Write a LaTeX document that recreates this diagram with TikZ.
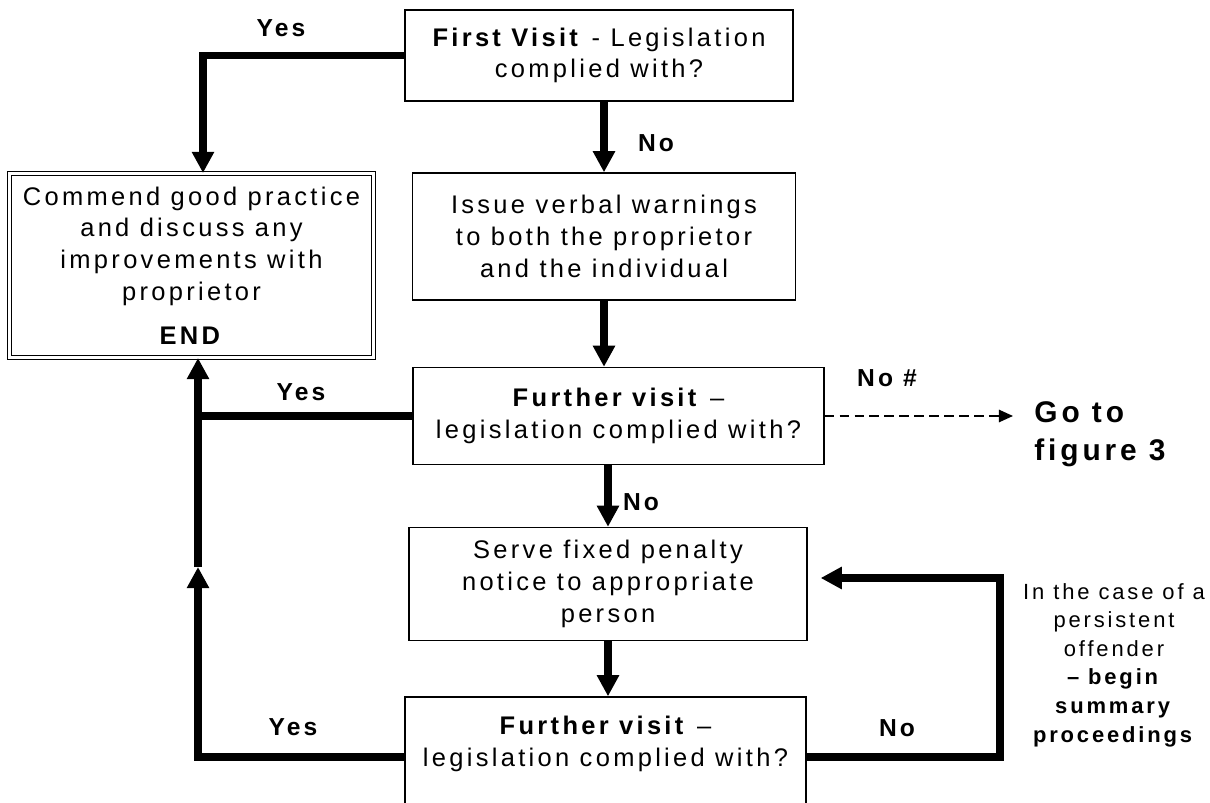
\documentclass[tikz,border=0pt]{standalone}
\usepackage{fontspec}
\setmainfont{Liberation Sans}[LetterSpace=13]
\usetikzlibrary{arrows.meta}

\begin{document}
\begin{tikzpicture}[
        x=0.02cm, y=-0.02cm,
        box/.style={rectangle, draw, line width=0.8pt, align=center, inner sep=2pt,
            font=\fontsize{14.5}{18}\selectfont},
        endbox/.style={box, double, double distance=1.8pt, line width=0.6pt},
        lbl/.style={font=\bfseries\fontsize{14}{18}\selectfont},
        fat/.style={-{Triangle[width=12pt,length=12pt]}, line width=4pt},
        fatline/.style={line width=4pt},
        dasharrow/.style={-{Triangle[width=7pt,length=8pt]}, line width=1pt, dash pattern=on 5.5pt off 3pt}
    ]
        \useasboundingbox (0,0) rectangle (1210,803);

        % Boxes
        \node[box, minimum width=7.76cm, minimum height=1.82cm] (visit1) at (599,55.5) {
            \textbf{First Visit} - Legislation\\
            complied with?
        };

        \node[endbox, minimum width=7.28cm, minimum height=3.68cm] (endbox) at (191.5,265.5) {
            Commend good practice\\
            and discuss any\\
            improvements with\\
            proprietor\\[7pt]
            \textbf{END}
        };

        \node[box, minimum width=7.66cm, minimum height=2.54cm] (warn) at (604,236.5) {
            Issue verbal warnings\\
            to both the proprietor\\
            and the individual
        };

        \node[box, minimum width=8.22cm, minimum height=1.94cm] (visit2) at (618.5,416) {
            \textbf{Further visit} –\\
            legislation complied with?
        };

        \node[box, minimum width=7.96cm, minimum height=2.26cm] (penalty) at (608,584) {
            Serve fixed penalty\\
            notice to appropriate\\
            person
        };

        \node[box, minimum width=8.02cm, minimum height=2.4cm] (visit3) at (605.5,757) {
            \textbf{Further visit} –\\
            legislation complied with?\\
            \mbox{}
        };

        \node[font=\bfseries\fontsize{17}{21.5}\selectfont, align=left, anchor=west, inner xsep=12pt] (goto) at (1013,434) {
            Go to\\
            figure 3
        };

        \node[align=center, font=\fontsize{12.5}{16.3}\selectfont] (note) at (1114,665) {
            In the case of a\\
            persistent\\
            offender\\
            \textbf{– begin}\\
            \textbf{summary}\\
            \textbf{proceedings}
        };

        % Labels
        \node[lbl] (yes1) at (281,28) {Yes};
        \node[lbl] (no1) at (656,143) {No};
        \node[lbl] (yes2) at (301,392) {Yes};
        \node[lbl] (no2) at (887,378) {No \#};
        \node[lbl] (no3) at (641,502) {No};
        \node[lbl] (yes3) at (293,727) {Yes};
        \node[lbl] (no4) at (897,728) {No};

        \coordinate (upmid) at (198,567);
        \coordinate (loopcorner) at (1000,578);

        % Arrows
        \draw[fat] (visit1.west) -| ([xshift=0.23cm]endbox.north);
        \draw[fat] (warn |- visit1.south) -- (warn.north);
        \draw[fat] (warn.south) -- (warn |- visit2.north);
        \draw[fat] (penalty |- visit2.south) -- (penalty.north);
        \draw[fat] (penalty.south) -- (penalty |- visit3.north);
        \draw[dasharrow] (visit2.east) -- (visit2.east -| goto.west);
        \draw[fatline] (visit2.west) -- (visit2.west -| upmid);
        \draw[fat] (visit3.west) -| (upmid);
        \draw[fat] (upmid) -- (endbox.south -| upmid);
        \draw[fat, shorten >=0.26cm] (visit3.east) -| (loopcorner) -- (penalty.east |- loopcorner);
    \end{tikzpicture}
\end{document}
